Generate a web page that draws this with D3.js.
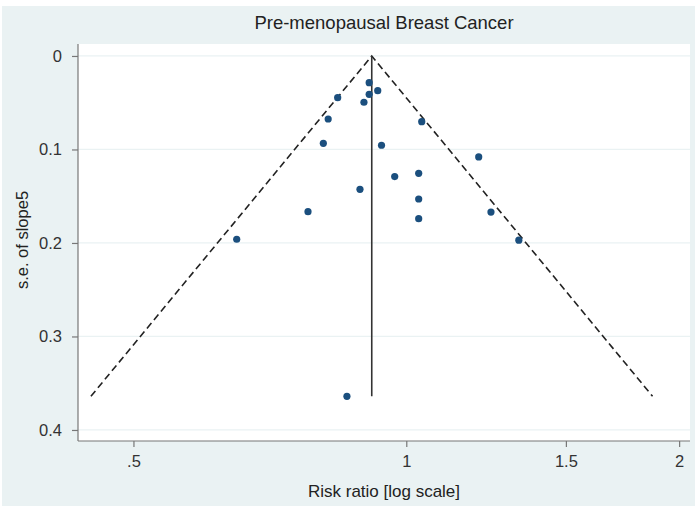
<!DOCTYPE html>
<html>
<head>
<meta charset="utf-8">
<script src="https://cdn.jsdelivr.net/npm/d3@7"></script>
<style>
  body { margin: 0; background: #fff; }
  svg { display: block; font-family: "Liberation Sans", Arial, sans-serif; }
</style>
</head>
<body>
<svg width="696" height="507"></svg>
<script>
// study estimates
var riskRatio = [0.840, 0.820, 0.810, 0.779, 0.650, 0.910, 0.910, 0.930, 0.898, 1.040,
                 0.939, 1.202, 0.971, 1.032, 0.889, 1.032, 1.032, 1.240, 1.331, 0.860];
var stdErr    = [0.0446, 0.0674, 0.0934, 0.1665, 0.196, 0.0286, 0.041, 0.0371, 0.0495, 0.0703,
                 0.0955, 0.108, 0.129, 0.1255, 0.1426, 0.153, 0.174, 0.167, 0.197, 0.364];
var pooledRR = 0.916;
var xTicks = [0.5, 1, 1.5, 2];
var yTicks = [0, 0.1, 0.2, 0.3, 0.4];

var svg = d3.select("svg");
var width = +svg.attr("width");
var height = +svg.attr("height");

// stata-ish outer panel
svg.append("rect").attr("x", 2).attr("y", 6).attr("width", 693).attr("height", 500)
  .attr("fill", "#eaf2f3");

var plot = {left: 78, right: 690, top: 44, bottom: 441};

svg.append("rect").attr("x", plot.left).attr("y", plot.top)
  .attr("width", plot.right - plot.left).attr("height", plot.bottom - plot.top)
  .attr("fill", "#fff");

var x = d3.scaleLog().domain([0.4343, 2.056]).range([plot.left, plot.right]);
var y = d3.scaleLinear().domain([-0.0128, 0.4118]).range([plot.top, plot.bottom]);

// gridlines
svg.append("g").selectAll("line").data(yTicks).enter().append("line")
  .attr("x1", plot.left).attr("x2", plot.right)
  .attr("y1", d => y(d)).attr("y2", d => y(d))
  .style("stroke", "#eaf2f3").attr("stroke-width", 1.2);

// axes
var yAxis = d3.axisLeft(y).tickValues(yTicks).tickSize(6).tickPadding(10)
  .tickFormat(d => d === 0 ? "0" : d3.format(".1f")(d));
var gy = svg.append("g").attr("transform", "translate(" + plot.left + ",0)").call(yAxis);
gy.select(".domain").attr("d", "M0," + plot.top + "V" + plot.bottom);

var xAxis = d3.axisBottom(x).tickValues(xTicks).tickSize(6).tickPadding(8)
  .tickFormat(d => d === 0.5 ? ".5" : String(d));
var gx = svg.append("g").attr("transform", "translate(0," + plot.bottom + ")").call(xAxis);
gx.select(".domain").attr("d", "M" + plot.left + ",0H" + plot.right);

svg.selectAll(".domain, .tick line").style("stroke", "#777").attr("stroke-width", 1.2);
svg.selectAll(".tick text").style("font-size", "16.5px").style("fill", "#333");

// funnel: pseudo 95% limits
var maxSe = d3.max(stdErr);
var lnTheta = Math.log(pooledRR);
var funnel = [
  [Math.exp(lnTheta - 1.96 * maxSe), maxSe],
  [pooledRR, 0],
  [Math.exp(lnTheta + 1.96 * maxSe), maxSe]
];
svg.append("path")
  .attr("d", d3.line().x(d => x(d[0])).y(d => y(d[1]))(funnel))
  .attr("fill", "none").style("stroke", "#222").attr("stroke-width", 1.6)
  .attr("stroke-dasharray", "7,4");

svg.append("line")
  .attr("x1", x(pooledRR)).attr("x2", x(pooledRR))
  .attr("y1", y(0)).attr("y2", y(maxSe))
  .style("stroke", "#333").attr("stroke-width", 1.6);

// study points
svg.append("g").selectAll("circle").data(riskRatio).enter().append("circle")
  .attr("cx", d => x(d))
  .attr("cy", (d, i) => y(stdErr[i]))
  .attr("r", 3.6)
  .attr("fill", "#1b4f7e");

// labels
svg.append("text").attr("x", 384).attr("y", 29).attr("text-anchor", "middle")
  .style("font-size", "18.5px").style("fill", "#222").text("Pre-menopausal Breast Cancer");

svg.append("text").attr("x", 384).attr("y", 497).attr("text-anchor", "middle")
  .style("font-size", "17px").style("fill", "#222").text("Risk ratio [log scale]");

svg.append("text").attr("transform", "translate(28,240) rotate(-90)")
  .attr("text-anchor", "middle")
  .style("font-size", "16.5px").style("fill", "#222").text("s.e. of slope5");
</script>
</body>
</html>
